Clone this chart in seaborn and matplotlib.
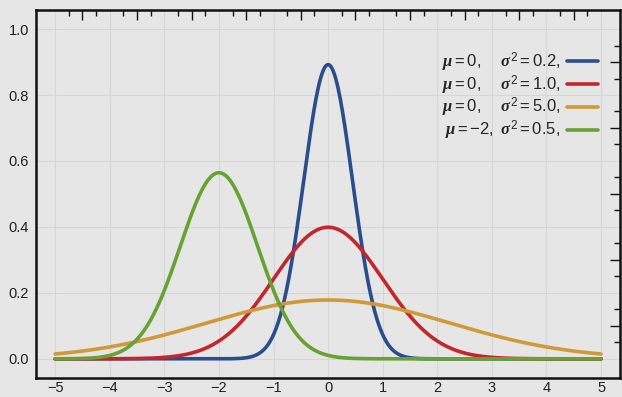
import numpy as np
import pandas as pd
import matplotlib
matplotlib.use("Agg")
import matplotlib.pyplot as plt
import seaborn as sns

# parameter kurva (dibaca dari legenda)
mu = [0, 0, 0, -2]
sigma2 = [0.2, 1.0, 5.0, 0.5]
labels = [r'$\mu = 0,\quad\ \sigma^2 = 0.2,$',
          r'$\mu = 0,\quad\ \sigma^2 = 1.0,$',
          r'$\mu = 0,\quad\ \sigma^2 = 5.0,$',
          r'$\mu = -2,\ \sigma^2 = 0.5,$']
colors = ['#2b4d8c', '#c1272d', '#cf9a37', '#69a132']
xticks = [-5, -4, -3, -2, -1, 0, 1, 2, 3, 4, 5]
yticks = [0.0, 0.2, 0.4, 0.6, 0.8, 1.0]

x = np.linspace(-5, 5, 801)
rows = []
for m, s2, lab in zip(mu, sigma2, labels):
    y = np.exp(-(x - m) ** 2 / (2 * s2)) / np.sqrt(2 * np.pi * s2)
    rows.append(pd.DataFrame({'x': x, 'y': y, 'kurva': lab}))
df = pd.concat(rows, ignore_index=True)

sns.set_theme(style="whitegrid")
plt.rcParams['font.family'] = ['Liberation Sans', 'DejaVu Sans']
plt.rcParams['mathtext.fontset'] = 'custom'
plt.rcParams['mathtext.rm'] = 'Liberation Sans'
plt.rcParams['mathtext.it'] = 'Liberation Serif:italic:bold'

bg = '#e6e6e6'
fig = plt.figure(figsize=(6.22, 3.97), dpi=100, facecolor=bg)
ax = fig.add_axes([0.058, 0.048, 0.939, 0.927], facecolor=bg)

sns.lineplot(data=df, x='x', y='y', hue='kurva', hue_order=labels,
             palette=dict(zip(labels, colors)), linewidth=2.6, ax=ax,
             legend=False, sort=False)

ax.set_xlim(-5.35, 5.35)
ax.set_ylim(-0.058, 1.058)
ax.set_xlabel('')
ax.set_ylabel('')

ax.set_xticks(xticks)
ax.set_xticklabels([str(v).replace('-', '\u2212') for v in xticks])
ax.set_yticks(yticks)
ax.set_yticklabels(['%.1f' % v for v in yticks])

xminor = [v / 4 for v in range(-19, 20) if v % 4 != 0]
yminor = [v / 20 for v in range(1, 20) if v % 4 != 0]
ax.set_xticks(xminor, minor=True)
ax.set_yticks(yminor, minor=True)

ax.tick_params(which='both', direction='in', top=True, right=True,
               color='#111111', width=1.0)
ax.tick_params(which='major', length=0, labelsize=10.5, labelcolor='#222222')
ax.tick_params(axis='x', which='major', pad=2)
ax.tick_params(axis='y', which='major', pad=5)
ax.tick_params(which='minor', length=4)

# tick setengah lebih panjang
for pos, t in zip(xminor, ax.xaxis.get_minor_ticks()):
    if abs(pos * 2 - round(pos * 2)) < 1e-9:
        t.tick1line.set_markersize(7)
        t.tick2line.set_markersize(7)
for pos, t in zip(yminor, ax.yaxis.get_minor_ticks()):
    if abs(pos * 10 - round(pos * 10)) < 1e-9:
        t.tick1line.set_markersize(7)
        t.tick2line.set_markersize(7)

ax.grid(True, which='major', color='#d6d6d6', linewidth=0.8)
ax.grid(False, which='minor')
for side in ['left', 'right', 'top', 'bottom']:
    ax.spines[side].set_visible(True)
    ax.spines[side].set_color('#111111')
    ax.spines[side].set_linewidth(1.8)

handles = [plt.Line2D([], [], color=c, linewidth=2.6) for c in colors]
ax.legend(handles, labels, loc='upper right', bbox_to_anchor=(0.974, 0.908),
          frameon=False, markerfirst=False, fontsize=12, handlelength=1.9,
          handletextpad=0.4, labelspacing=-0.02, borderaxespad=0)

fig.savefig('out.png', dpi=100, facecolor=bg)
